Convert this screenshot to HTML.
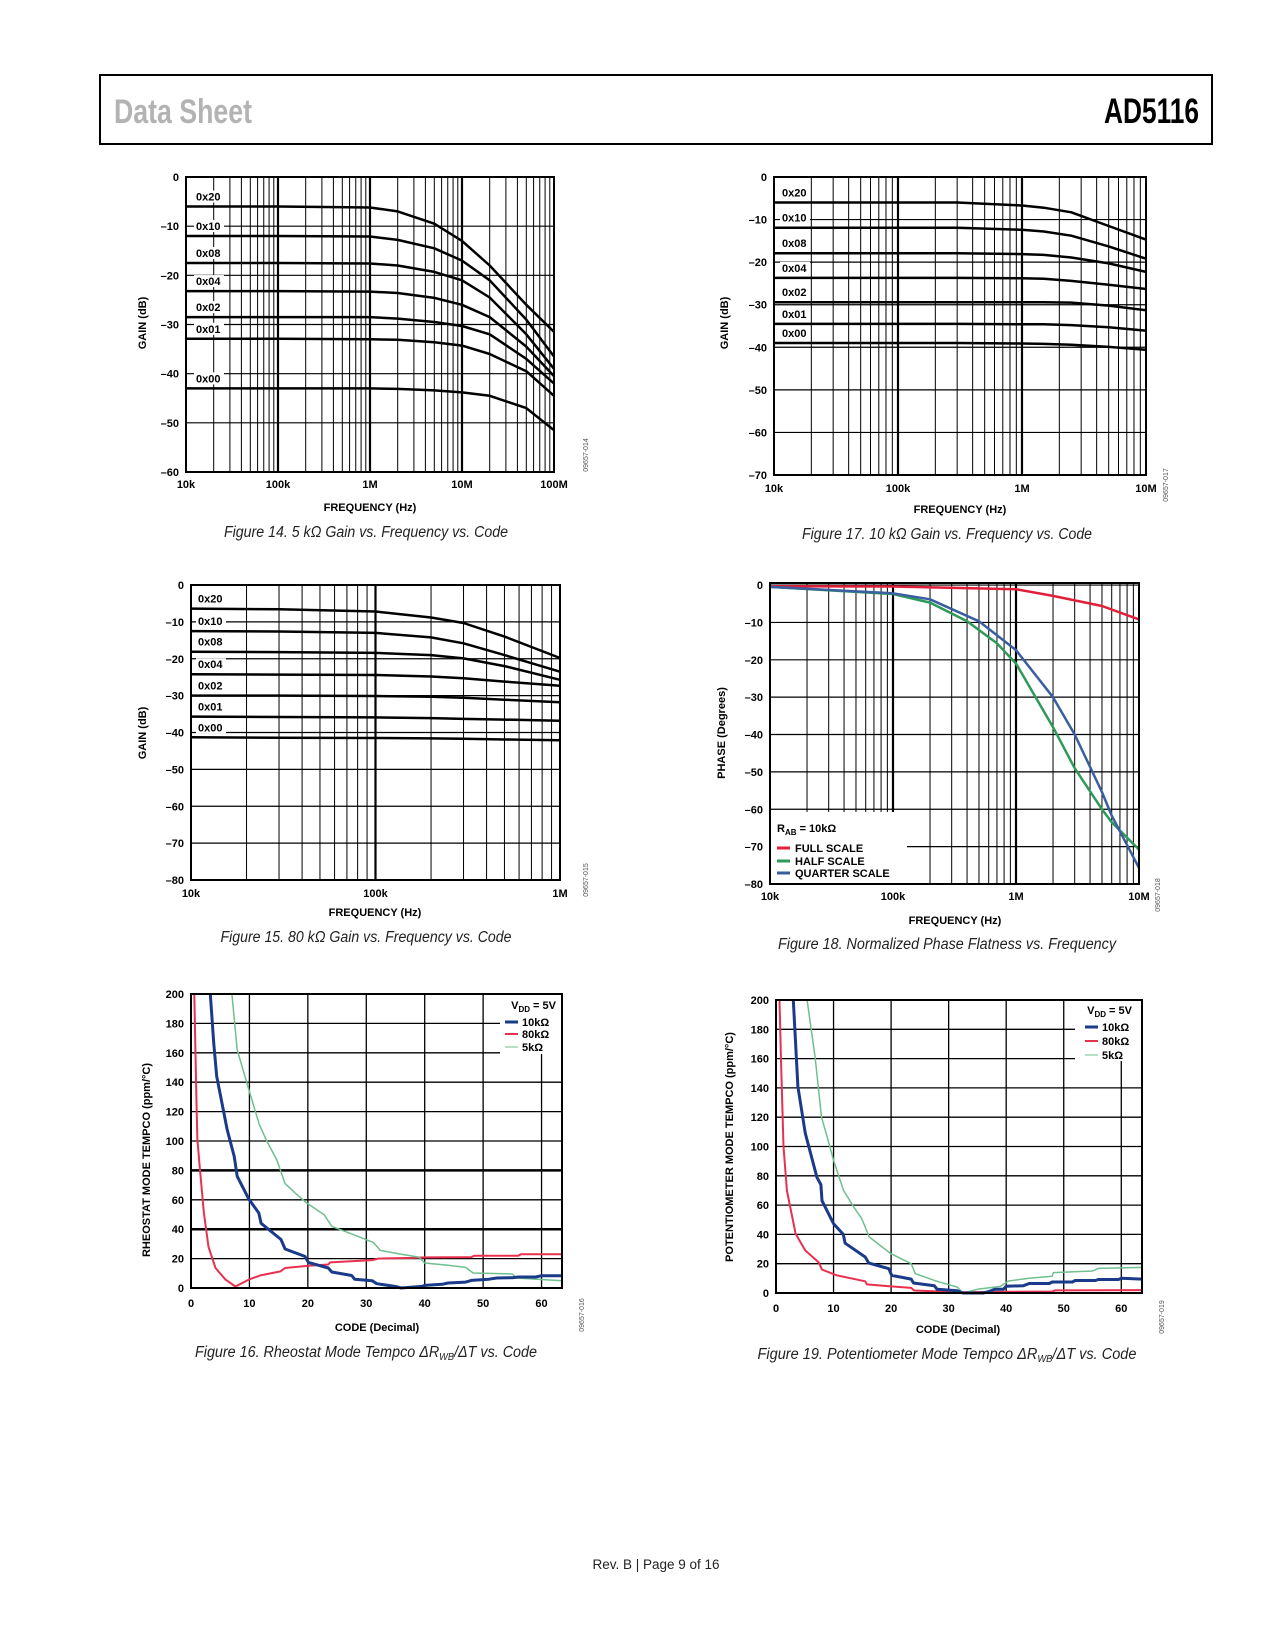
<!DOCTYPE html>
<html><head><meta charset="utf-8">
<style>
html,body{margin:0;padding:0;background:#fff;}
svg{display:block;}
text{font-family:"Liberation Sans",sans-serif;}
.tk{font-size:11px;font-weight:bold;fill:#000;}
.cap{font-size:15.5px;font-style:italic;fill:#222;}
</style></head>
<body>
<svg id="page" xmlns="http://www.w3.org/2000/svg" width="1275" height="1650" viewBox="0 0 1275 1650">
<rect x="0" y="0" width="1275" height="1650" fill="#fff"/>
<rect x="100" y="75" width="1112" height="69" fill="none" stroke="#000" stroke-width="2"/>
<text x="114" y="123" font-size="34" font-weight="bold" fill="#b3b3b3" textLength="138" lengthAdjust="spacingAndGlyphs">Data Sheet</text>
<text x="1104" y="123" font-size="35" font-weight="bold" fill="#000" textLength="95" lengthAdjust="spacingAndGlyphs">AD5116</text>
<text x="656" y="1569" font-size="13.5" text-anchor="middle" fill="#222">Rev. B | Page 9 of 16</text>
</svg>
<script>
// ---------- Figure 14 (5k) ----------
const f14Freq = [1e4,1e5,1e6,2e6,5e6,1e7,2e7,5e7,1e8];
const f14Codes = ["0x20","0x10","0x08","0x04","0x02","0x01","0x00"];
const f14_20 = [-6,-6,-6.2,-7,-9.5,-13,-18,-26,-31.5];
const f14_10 = [-12,-12,-12.1,-12.8,-14.5,-17,-21,-29,-36.5];
const f14_08 = [-17.5,-17.5,-17.6,-18,-19.3,-21,-24.5,-32,-39];
const f14_04 = [-23.2,-23.2,-23.3,-23.6,-24.6,-26,-28.5,-34.5,-40.5];
const f14_02 = [-28.5,-28.5,-28.5,-28.8,-29.5,-30.3,-32,-37,-42];
const f14_01 = [-32.9,-32.9,-33,-33.1,-33.6,-34.3,-36,-39.5,-44.5];
const f14_00 = [-43,-43,-43,-43.1,-43.4,-43.8,-44.5,-47,-51.5];
const f14XTicks = ["10k","100k","1M","10M","100M"];
const f14YTicks = [0,-10,-20,-30,-40,-50,-60];
// ---------- Figure 17 (10k) ----------
const f17Freq = [1e4,1e5,3e5,1e6,1.5e6,2.5e6,5e6,1e7];
const f17_20 = [-6,-6,-6,-6.7,-7.2,-8.3,-11.5,-14.7];
const f17_10 = [-11.9,-11.9,-11.9,-12.4,-12.8,-13.8,-16.3,-19.2];
const f17_08 = [-17.9,-17.9,-17.9,-18.1,-18.3,-18.9,-20.3,-22.3];
const f17_04 = [-23.7,-23.7,-23.7,-23.8,-23.9,-24.4,-25.3,-26.3];
const f17_02 = [-29.4,-29.4,-29.4,-29.4,-29.4,-29.5,-30.2,-31.3];
const f17_01 = [-34.5,-34.5,-34.5,-34.6,-34.6,-34.8,-35.3,-36.1];
const f17_00 = [-39,-39,-39,-39.1,-39.2,-39.4,-39.9,-40.6];
const f17XTicks = ["10k","100k","1M","10M"];
const f17YTicks = [0,-10,-20,-30,-40,-50,-60,-70];
// ---------- Figure 15 (80k) ----------
const f15Freq = [1e4,3e4,1e5,2e5,3e5,5e5,1e6];
const f15_20 = [-6.4,-6.6,-7.2,-8.8,-10.3,-14,-19.8];
const f15_10 = [-12.5,-12.6,-13,-14.2,-15.8,-19,-23.5];
const f15_08 = [-18.1,-18.2,-18.4,-19,-19.9,-22,-25.7];
const f15_04 = [-24.2,-24.3,-24.4,-24.8,-25.3,-26.2,-27.3];
const f15_02 = [-30,-30,-30.1,-30.3,-30.6,-31.1,-31.8];
const f15_01 = [-35.7,-35.8,-35.9,-36.1,-36.3,-36.5,-36.8];
const f15_00 = [-41.3,-41.4,-41.5,-41.6,-41.7,-41.9,-42.1];
const f15XTicks = ["10k","100k","1M"];
const f15YTicks = [0,-10,-20,-30,-40,-50,-60,-70,-80];
// ---------- Figure 18 (phase) ----------
const f18FullF = [1e4,1e5,1e6,2e6,5e6,1e7];
const f18Full = [-0.3,-0.4,-1.1,-2.9,-5.6,-9.2];
const f18HalfF = [1e4,1e5,2e5,4e5,7e5,1e6,2e6,3e6,5e6,6e6,1e7];
const f18Half = [-0.5,-2.4,-4.7,-9.7,-15.6,-21,-38,-49,-60,-63.5,-70.8];
const f18QuarterF = [1e4,1e5,2e5,5e5,1e6,2e6,3e6,5e6,6e6,1e7];
const f18Quarter = [-0.5,-2.2,-3.8,-9.7,-17.4,-30,-40,-55.4,-61.7,-75.7];
const f18XTicks = ["10k","100k","1M","10M"];
const f18YTicks = [0,-10,-20,-30,-40,-50,-60,-70,-80];
// ---------- Figure 16 (rheostat tempco) ----------
const f16BlueX = [3.3,3.9,4.4,6.2,7.4,7.9,9.9,11.6,12,15.4,16.1,19.5,20.1,23.5,24.1,27.5,28,31,31.8,35,36,39.5,40,43,44,47,48,51,52.3,55,56,59,60,63.5];
const f16BlueY = [200,166,144,107.6,89.5,76,60.5,51,44,33,26.5,21.5,17.4,13.6,10.9,8.5,6,5,2.9,1,0,1.1,1.8,2.5,3.4,4,5.2,6,6.8,7,7.5,7.5,8.4,8.4];
const f16RedX = [0.57,0.9,1.1,1.6,2.2,3,4.2,5.9,7.6,9.9,11.9,15.3,16.1,20.1,23.5,23.8,31,32,38,40,48,48.5,56,56.5,63.5];
const f16RedY = [200,132,100.8,78,51,28,13.6,5.7,1,5.7,8.6,11.3,13.6,15.2,16,17.4,19,20,20.5,20.8,21,22,22,23,23];
const f16GreenX = [7.0,7.9,9.9,11.7,13,14.7,16.1,18,19.8,22.8,24.1,28,31.2,32.4,36,39,40,44,47,48.3,55,55.7,63.5];
const f16GreenY = [200,162,135,111,99.7,87,71,64,57.8,49.8,41.9,36,31,25.6,23,21,17,15.5,14,10.2,9.5,6.8,5];
const f16XTicks = [0,10,20,30,40,50,60];
const f16YTicks = [0,20,40,60,80,100,120,140,160,180,200];
// ---------- Figure 19 (potentiometer tempco) ----------
const f19BlueX = [3.0,3.8,5.1,7.1,7.8,8,10,11.7,12,15.5,16.1,19.6,20.1,23.5,23.9,27.5,28,31.5,32.5,36,37,38,39.5,40,43,44,47.5,48,51.5,52,55.5,56,59.5,60,63.6];
const f19BlueY = [200,140.8,109,79,74,63,47.4,40,34,24.6,20.5,16.6,12,9.5,6.8,5,2.5,1.5,0,0,1,2.5,2.5,4.6,5,6.5,6.5,7.5,7.5,8.5,8.5,9.2,9.2,10,9.5];
const f19RedX = [0.6,0.87,1.3,1.9,3.4,5.1,7.4,8,10.6,15.5,15.8,20,23.5,24,32,40,48,48.5,63.6];
const f19RedY = [200,159,100,70,40.5,29,21,16,12,8,5.9,4.5,3.5,1.7,0.5,0.8,1,1.8,2];
const f19GreenX = [5.4,6.8,7.9,9,10,11.75,13.5,14.9,16.2,19.9,23.5,24.2,28,31.5,32.5,35,39,40.4,44,48,48.2,55,56,63.6];
const f19GreenY = [200,161,120,105,90.7,70,58.8,50.8,38.3,27,20,13.2,8,4,0,2.5,4.5,8.2,10,11.5,13.9,15,16.8,17.5];
const f19XTicks = [0,10,20,30,40,50,60];
const f19YTicks = [0,20,40,60,80,100,120,140,160,180,200];

const NS = "http://www.w3.org/2000/svg";
const page = document.getElementById('page');
function mk(tag, attrs, parent) {
  const e = document.createElementNS(NS, tag);
  for (const k in attrs) e.setAttribute(k, attrs[k]);
  (parent || page).appendChild(e);
  return e;
}
function parseF(s){const m={k:1e3,M:1e6};return parseFloat(s)*m[s.slice(-1)];}

function logAxes(g, box, fmin, fmax, ymin, ymax, yTicks, xTicks, opts) {
  const sx = f => box.x0 + (Math.log10(f) - Math.log10(fmin)) / (Math.log10(fmax) - Math.log10(fmin)) * (box.x1 - box.x0);
  const sy = v => box.y0 + (ymax - v) / (ymax - ymin) * (box.y1 - box.y0);
  for (let d = Math.log10(fmin); d < Math.log10(fmax); d++) {
    for (let k = 1; k <= 9; k++) {
      const f = k * Math.pow(10, d);
      if (f <= fmin) continue;
      const x = sx(f);
      const ln = mk('line', {x1:x, x2:x, y1:box.y0, y2:box.y1, stroke:'#000', 'stroke-width': k===1?2.2:1}, g);
      
      
    }
  }
  yTicks.forEach(v => {
    const y = sy(v);
    if (v !== ymin && v !== ymax) {
      const ln = mk('line', {x1:box.x0, x2:box.x1, y1:y, y2:y, stroke:'#000', 'stroke-width':1.2}, g);
      
      
    }
    const t = mk('text', {x:box.x0 - 7, y:y + 4, 'text-anchor':'end', class:'tk'}, g);
    t.textContent = v === 0 ? '0' : '\u2013' + Math.abs(v);
    
    
  });
  xTicks.forEach(s => {
    const t = mk('text', {x:sx(parseF(s)), y:opts.tickY, 'text-anchor':'middle', class:'tk'}, g);
    t.textContent = s;
    
    
  });
  return {sx, sy};
}
function frame(g, box) {
  const r = mk('rect', {x:box.x0, y:box.y0, width:box.x1-box.x0, height:box.y1-box.y0, fill:'none', stroke:'#000', 'stroke-width':2}, g);
  
  
}
function titles(g, xt, yt, code, cap) {
  let t = mk('text', {x:xt.x, y:xt.y, 'text-anchor':'middle', class:'tk'}, g);
  t.textContent = xt.s;
  
  
  t = mk('text', {x:0, y:0, 'text-anchor':'middle', class:'tk', transform:`translate(${yt.x},${yt.y}) rotate(-90)`}, g);
  t.textContent = yt.s;
  
  
  t = mk('text', {x:0, y:0, 'text-anchor':'middle', 'font-size':7, fill:'#555', transform:`translate(${code.x},${code.y}) rotate(-90)`}, g);
  t.textContent = code.s;
  
  
  t = mk('text', {x:cap.x, y:cap.y, 'text-anchor':'middle', class:'cap', textLength:cap.w, lengthAdjust:'spacingAndGlyphs'}, g);
  if (cap.sub) {
    t.appendChild(document.createTextNode(cap.a));
    const s = mk('tspan', {'font-size':10, dy:3}, t);
    s.textContent = cap.sub;
    const s2 = mk('tspan', {dy:-3}, t);
    s2.textContent = cap.b;
  } else t.textContent = cap.s;
  
  
}
function curve(g, xs, ys, sx, sy, color, w, name) {
  let d = '';
  xs.forEach((x, i) => { d += (i ? 'L' : 'M') + sx(x).toFixed(1) + ',' + sy(ys[i]).toFixed(1); });
  const p = mk('path', {d, fill:'none', stroke:color, 'stroke-width':w, 'stroke-linejoin':'round'}, g);
  
  
  return p;
}
function gainChart(id, box, fmin, fmax, ymin, yTicks, xTicks, freq, series, tickY, lblX) {
  const g = mk('g', {});
  
  
  const ax = logAxes(g, box, fmin, fmax, ymin, 0, yTicks, xTicks, {tickY});
  series.forEach((s, i) => {
    curve(g, freq, s, ax.sx, ax.sy, '#000', 2.5, 'curve-' + f14Codes[i]);
    const y = ax.sy(s[0]) - 6;
    const bg = mk('rect', {x:box.x0 + lblX - 2, y:y - 10, width:30, height:12, fill:'#fff'}, g);
    
    
    const t = mk('text', {x:box.x0 + lblX, y:y, class:'tk'}, g);
    t.textContent = f14Codes[i];
    
    
  });
  frame(g, box);
  return g;
}

// Figure 14
let g14 = gainChart('figure-14-chart', {x0:186,x1:554,y0:177,y1:472}, 1e4, 1e8, -60, f14YTicks, f14XTicks, f14Freq,
  [f14_20,f14_10,f14_08,f14_04,f14_02,f14_01,f14_00], 488, 10);
titles(g14, {x:370,y:511,s:'FREQUENCY (Hz)'}, {x:146,y:323,s:'GAIN (dB)'}, {x:588,y:455,s:'09657-014'},
  {x:366,y:537,w:284,s:'Figure 14. 5 k\u03A9 Gain vs. Frequency vs. Code'});
// Figure 17
let g17 = gainChart('figure-17-chart', {x0:774,x1:1146,y0:177,y1:475}, 1e4, 1e7, -70, f17YTicks, f17XTicks, f17Freq,
  [f17_20,f17_10,f17_08,f17_04,f17_02,f17_01,f17_00], 492, 8);
titles(g17, {x:960,y:513,s:'FREQUENCY (Hz)'}, {x:728,y:323,s:'GAIN (dB)'}, {x:1168,y:485,s:'09657-017'},
  {x:947,y:539,w:290,s:'Figure 17. 10 k\u03A9 Gain vs. Frequency vs. Code'});
// Figure 15
let g15 = gainChart('figure-15-chart', {x0:191,x1:560,y0:585,y1:880}, 1e4, 1e6, -80, f15YTicks, f15XTicks, f15Freq,
  [f15_20,f15_10,f15_08,f15_04,f15_02,f15_01,f15_00], 897, 7);
titles(g15, {x:375,y:916,s:'FREQUENCY (Hz)'}, {x:146,y:733,s:'GAIN (dB)'}, {x:588,y:880,s:'09657-015'},
  {x:366,y:942,w:291,s:'Figure 15. 80 k\u03A9 Gain vs. Frequency vs. Code'});

// Figure 18
(function(){
  const g = mk('g', {});
  
  
  const box = {x0:770,x1:1139,y0:583,y1:884};
  const ax = logAxes(g, box, 1e4, 1e7, -80, 0.55, f18YTicks, f18XTicks, {tickY:900});
  const cover = mk('rect', {x:771, y:812, width:136, height:71, fill:'#fff'}, g);
  
  
  curve(g, f18FullF, f18Full, ax.sx, ax.sy, '#e0203a', 2.5, 'full-scale-line');
  curve(g, f18HalfF, f18Half, ax.sx, ax.sy, '#2e9a5a', 2.5, 'half-scale-line');
  curve(g, f18QuarterF, f18Quarter, ax.sx, ax.sy, '#3a5fa0', 2.5, 'quarter-scale-line');
  frame(g, box);
  let t = mk('text', {x:777, y:832, class:'tk'}, g);
  t.appendChild(document.createTextNode('R'));
  let s = mk('tspan', {'font-size':8, dy:3}, t); s.textContent = 'AB';
  s = mk('tspan', {dy:-3}, t); s.textContent = ' = 10k\u03A9';
  
  
  [['FULL SCALE','#e0203a',852],['HALF SCALE','#2e9a5a',865],['QUARTER SCALE','#3a5fa0',877]].forEach(e => {
    const sw = mk('line', {x1:777, x2:790, y1:e[2]-4, y2:e[2]-4, stroke:e[1], 'stroke-width':3}, g);
    
    
    const lt = mk('text', {x:795, y:e[2], class:'tk'}, g);
    lt.textContent = e[0];
    
    
  });
  titles(g, {x:955,y:924,s:'FREQUENCY (Hz)'}, {x:725,y:733,s:'PHASE (Degrees)'}, {x:1160,y:895,s:'09657-018'},
    {x:947,y:949,w:338,s:'Figure 18. Normalized Phase Flatness vs. Frequency'});
})();

function tempcoChart(id, box, xmax, xTicks, yTicks, blue, red, green, leg, tickY, tt) {
  const g = mk('g', {});
  
  
  const sx = v => box.x0 + v / xmax * (box.x1 - box.x0);
  const sy = v => box.y1 - v / 200 * (box.y1 - box.y0);
  xTicks.forEach(v => {
    if (v > 0) {
      const ln = mk('line', {x1:sx(v), x2:sx(v), y1:box.y0, y2:box.y1, stroke:'#000', 'stroke-width':1.3}, g);
      
      
    }
    const t = mk('text', {x:sx(v), y:tickY, 'text-anchor':'middle', class:'tk'}, g);
    t.textContent = v;
    
    
  });
  yTicks.forEach(v => {
    if (v > 0 && v < 200) {
      const ln = mk('line', {x1:box.x0, x2:box.x1, y1:sy(v), y2:sy(v), stroke:'#000', 'stroke-width':(v===40||v===80)&&id==='figure-16-chart'?2.5:1.3}, g);
      
      
    }
    const t = mk('text', {x:box.x0 - 7, y:sy(v) + 4, 'text-anchor':'end', class:'tk'}, g);
    t.textContent = v;
    
    
  });
  const lb = mk('rect', {x:leg.bx, y:box.y0+1, width:box.x1-leg.bx-1, height:leg.bh, fill:'#fff'}, g);
  
  
  const clip = mk('clipPath', {id:id+'-clip'}, g);
  mk('rect', {x:box.x0, y:box.y0, width:box.x1-box.x0, height:box.y1-box.y0+2}, clip);
  const cg = mk('g', {'clip-path':`url(#${id}-clip)`}, g);
  curve(cg, red[0], red[1], sx, sy, '#e8304f', 2, 'series-80k');
  curve(cg, green[0], green[1], sx, sy, '#6fbf8f', 1.5, 'series-5k');
  curve(cg, blue[0], blue[1], sx, sy, '#1a3a8a', 3, 'series-10k');
  frame(g, box);
  let t = mk('text', {x:leg.rx, y:leg.y0, 'text-anchor':'end', class:'tk'}, g);
  t.appendChild(document.createTextNode('V'));
  let s = mk('tspan', {'font-size':8, dy:3}, t); s.textContent = 'DD';
  s = mk('tspan', {dy:-3}, t); s.textContent = ' = 5V';
  
  
  [['10k\u03A9','#1a3a8a',3],['80k\u03A9','#e8304f',2],['5k\u03A9','#6fbf8f',1]].forEach((e, i) => {
    const y = leg.ys[i];
    const sw = mk('line', {x1:leg.sx, x2:leg.sx+13, y1:y-4, y2:y-4, stroke:e[1], 'stroke-width':e[2]}, g);
    
    
    const lt = mk('text', {x:leg.sx+17, y:y, class:'tk'}, g);
    lt.textContent = e[0];
    
    
  });
  titles(g, tt.xt, tt.yt, tt.code, tt.cap);
}
tempcoChart('figure-16-chart', {x0:191,x1:562,y0:994,y1:1288}, 63.5, f16XTicks, f16YTicks,
  [f16BlueX,f16BlueY], [f16RedX,f16RedY], [f16GreenX,f16GreenY],
  {bx:500, bh:59, rx:556, y0:1009, sx:505, ys:[1026,1038,1051]}, 1307,
  {xt:{x:377,y:1331,s:'CODE (Decimal)'}, yt:{x:150,y:1160,s:'RHEOSTAT MODE TEMPCO (ppm/\u00B0C)'},
   code:{x:584,y:1315,s:'09657-016'},
   cap:{x:366,y:1357,w:342,sub:'WB',a:'Figure 16. Rheostat Mode Tempco \u0394R',b:'/\u0394T vs. Code'}});
tempcoChart('figure-19-chart', {x0:776,x1:1142,y0:1000,y1:1293}, 63.6, f19XTicks, f19YTicks,
  [f19BlueX,f19BlueY], [f19RedX,f19RedY], [f19GreenX,f19GreenY],
  {bx:1075, bh:60, rx:1132, y0:1014, sx:1085, ys:[1031,1045,1059]}, 1312,
  {xt:{x:958,y:1333,s:'CODE (Decimal)'}, yt:{x:733,y:1147,s:'POTENTIOMETER MODE TEMPCO (ppm/\u00B0C)'},
   code:{x:1164,y:1317,s:'09657-019'},
   cap:{x:947,y:1359,w:379,sub:'WB',a:'Figure 19. Potentiometer Mode Tempco \u0394R',b:'/\u0394T vs. Code'}});
</script>
</body></html>
